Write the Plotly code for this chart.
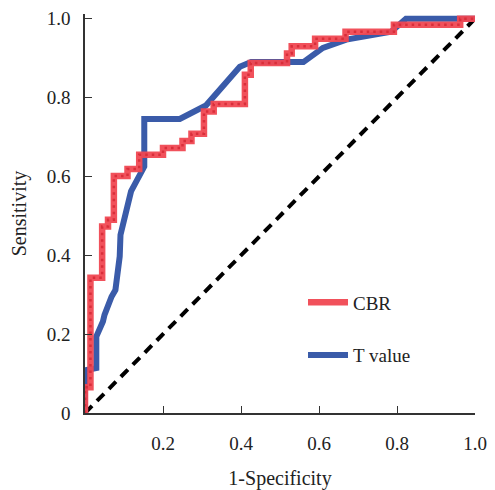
import plotly.graph_objects as go

# CBR ROC curve (step points: 1-specificity, sensitivity)
cbr_fpr = [0.0, 0.0, 0.014, 0.044, 0.059, 0.074, 0.109, 0.139, 0.200, 0.250, 0.273,
           0.305, 0.330, 0.410, 0.425, 0.518, 0.530, 0.590, 0.668, 0.792, 0.962, 1.0]
cbr_tpr = [0.0, 0.065, 0.343, 0.473, 0.490, 0.601, 0.619, 0.655, 0.672, 0.690, 0.708,
           0.765, 0.784, 0.858, 0.888, 0.912, 0.930, 0.949, 0.967, 0.985, 1.0, 1.0]

# T value ROC curve
t_fpr = [0.0, 0.0, 0.029, 0.029, 0.046, 0.050, 0.068, 0.078, 0.089, 0.091, 0.118,
         0.152, 0.152, 0.243, 0.310, 0.397, 0.426, 0.560, 0.610, 0.670, 0.785, 0.823, 1.0]
t_tpr = [0.0, 0.108, 0.114, 0.194, 0.232, 0.249, 0.295, 0.312, 0.397, 0.452, 0.562,
         0.625, 0.746, 0.746, 0.780, 0.878, 0.890, 0.890, 0.926, 0.947, 0.967, 1.0, 1.0]

ref_x = [0.0, 1.0]
ref_y = [0.0, 1.0]

x_ticks = [0.2, 0.4, 0.6, 0.8, 1.0]
x_tick_text = ["0.2", "0.4", "0.6", "0.8", "1.0"]
y_ticks = [0.0, 0.2, 0.4, 0.6, 0.8, 1.0]
y_tick_text = ["0", "0.2", "0.4", "0.6", "0.8", "1.0"]

RED = "rgba(240,72,82,0.95)"
RED_DOT = "#D92E3A"
BLUE = "#3A5BA9"
FONT = "Liberation Serif"

fig = go.Figure()

fig.add_trace(go.Scatter(x=ref_x, y=ref_y, mode="lines", showlegend=False,
                         line=dict(color="black", width=4, dash="10px,7px"),
                         hoverinfo="skip"))

fig.add_trace(go.Scatter(x=t_fpr, y=t_tpr, mode="lines", name="T value",
                         legendgroup="t", legendrank=2,
                         line=dict(color=BLUE, width=6)))

fig.add_trace(go.Scatter(x=cbr_fpr, y=cbr_tpr, mode="lines", name="CBR",
                         legendgroup="cbr", legendrank=1,
                         line=dict(color=RED, width=6.5, shape="hv")))
fig.add_trace(go.Scatter(x=cbr_fpr, y=cbr_tpr, mode="lines", showlegend=False,
                         legendgroup="cbr",
                         line=dict(color=RED_DOT, width=2.5, shape="hv", dash="2.5px,4px"),
                         hoverinfo="skip"))

fig.update_layout(
    width=495, height=490,
    margin=dict(l=77, r=28, t=6, b=85, autoexpand=False),
    paper_bgcolor="white", plot_bgcolor="white",
    font=dict(family=FONT, size=19, color="#222"),
    legend=dict(x=0.559, y=0.3245, xanchor="left", yanchor="top",
                bgcolor="rgba(0,0,0,0)", font=dict(size=19, family=FONT),
                traceorder="grouped", tracegroupgap=25, itemwidth=40),
    xaxis=dict(range=[0, 1.0], showgrid=False, zeroline=False, showline=True,
               automargin=False,
               linecolor="#333", linewidth=1.5, ticks="inside", ticklen=7,
               tickcolor="#333", tickvals=x_ticks, ticktext=x_tick_text,
               ticklabelstandoff=12,
               title=dict(text="1-Specificity", standoff=18, font=dict(size=20))),
    yaxis=dict(range=[0, 1.012], showgrid=False, zeroline=False, showline=True,
               automargin=False,
               linecolor="#333", linewidth=1.5, ticks="inside", ticklen=7,
               tickcolor="#333", tickvals=y_ticks, ticktext=y_tick_text,
               ticklabelstandoff=9,
               title=dict(text="Sensitivity", standoff=21, font=dict(size=20))),
)

fig.write_html("out.html")
